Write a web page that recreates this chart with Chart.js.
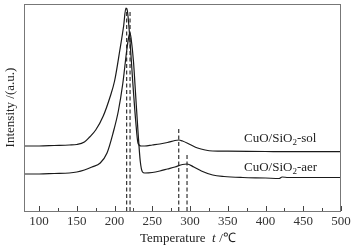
<!DOCTYPE html>
<html>
<head>
<meta charset="utf-8">
<script src="https://cdn.jsdelivr.net/npm/chart.js@4/dist/chart.umd.min.js"></script>
<style>
    html, body { margin: 0; padding: 0; background: #fff; }
    #wrap { width: 354px; height: 246px; position: relative; }
</style>
</head>
<body>
<div id="wrap"><canvas id="tprChart"></canvas></div>
<script>
// Dados (temperatura em °C, intensidade em unidades arbitrárias)
const solTemps = [80, 100, 120, 140, 150, 160, 167, 175, 185, 194, 200, 207, 212, 215, 217, 220, 224, 228, 231, 235, 240, 250, 260, 270, 280, 285, 290, 300, 310, 320, 330, 350, 400, 450, 500];
const solValues = [65, 65, 65.5, 66, 66.5, 69, 74, 81, 95, 114, 130, 161, 185, 203, 200, 175, 130, 90, 68, 65, 65, 66, 67, 68.5, 70.5, 71, 70, 66.5, 63, 61, 60, 59.8, 59.5, 59.3, 59.3];

const aerTemps = [80, 100, 120, 140, 150, 160, 170, 181, 190, 198, 205, 211, 216, 219, 220.5, 222, 225, 228, 231, 234, 237, 240, 250, 260, 270, 280, 290, 296, 305, 315, 330, 345, 370, 400, 418, 422, 430, 450, 500];
const aerValues = [37, 37, 37.5, 38, 39, 41, 44, 48, 58, 78, 100, 128, 160, 175, 178, 172, 150, 115, 80, 50, 39, 38, 38.5, 40, 42, 44, 46.5, 47, 44, 40, 36, 34.5, 33.5, 33, 32.5, 34, 33.5, 33.5, 33.5];

// Linhas tracejadas nos picos
const peakTemps = [216, 220.5, 285, 296];
const peakTops = [203, 201, 84, 56];

const xTicks = [100, 150, 200, 250, 300, 350, 400, 450, 500];
const xMinorTicks = [125, 175, 225, 275, 325, 375, 425, 475];

const seriesNames = ['CuO/SiO', '2', '-sol'];
const seriesNames2 = ['CuO/SiO', '2', '-aer'];

const serif = '"Liberation Serif", "Times New Roman", serif';

function toPoints(xs, ys) {
    return xs.map((x, i) => ({ x: x, y: ys[i] }));
}

const dashedSets = peakTemps.map((t, i) => ({
    data: [{ x: t, y: 0 }, { x: t, y: peakTops[i] }],
    borderColor: '#333',
    borderWidth: 1.2,
    borderDash: [4, 2.5],
    pointRadius: 0,
    tension: 0
}));

// Desenha moldura, ticks internos e textos
const decorPlugin = {
    id: 'decor',
    afterDraw(chart) {
        const ctx = chart.ctx;
        const a = chart.chartArea;
        const xs = chart.scales.x;
        ctx.save();
        ctx.strokeStyle = '#777';
        ctx.lineWidth = 1;
        ctx.strokeRect(a.left + 0.5, a.top + 0.5, a.right - a.left - 1, a.bottom - a.top);

        ctx.strokeStyle = '#444';
        xTicks.forEach(v => {
            const px = Math.round(xs.getPixelForValue(v)) + 0.5;
            ctx.beginPath();
            ctx.moveTo(px, a.bottom);
            ctx.lineTo(px, a.bottom - 5);
            ctx.stroke();
        });
        xMinorTicks.forEach(v => {
            const px = Math.round(xs.getPixelForValue(v)) + 0.5;
            ctx.beginPath();
            ctx.moveTo(px, a.bottom);
            ctx.lineTo(px, a.bottom - 3);
            ctx.stroke();
        });

        ctx.fillStyle = '#222';
        ctx.textBaseline = 'alphabetic';

        // Rótulos das séries com subscrito
        function drawName(parts, x, y) {
            ctx.font = '13px ' + serif;
            ctx.fillText(parts[0], x, y);
            x += ctx.measureText(parts[0]).width;
            ctx.font = '9px ' + serif;
            ctx.fillText(parts[1], x, y + 3);
            x += ctx.measureText(parts[1]).width;
            ctx.font = '13px ' + serif;
            ctx.fillText(parts[2], x, y);
        }
        drawName(seriesNames, 244, 142);
        drawName(seriesNames2, 244, 171);

        // Título do eixo x
        ctx.font = '13px ' + serif;
        ctx.fillText('Temperature', 140, 242);
        ctx.font = 'italic 13px ' + serif;
        ctx.fillText('t', 212, 242);
        ctx.font = '13px ' + serif;
        ctx.fillText(' /\u2103', 216, 242);

        // Título do eixo y
        ctx.translate(14, (a.top + a.bottom) / 2);
        ctx.rotate(-Math.PI / 2);
        ctx.textAlign = 'center';
        ctx.fillText('Intensity /(a.u.)', 0, 0);
        ctx.restore();
    }
};

new Chart(document.getElementById('tprChart'), {
    type: 'line',
    data: {
        datasets: [{
            data: toPoints(solTemps, solValues),
            borderColor: '#1a1a1a',
            borderWidth: 1.2,
            pointRadius: 0,
            cubicInterpolationMode: 'monotone'
        }, {
            data: toPoints(aerTemps, aerValues),
            borderColor: '#1a1a1a',
            borderWidth: 1.2,
            pointRadius: 0,
            cubicInterpolationMode: 'monotone'
        }].concat(dashedSets)
    },
    options: {
        responsive: true,
        maintainAspectRatio: false,
        animation: false,
        layout: {
            padding: { left: 24, right: 13, top: 4, bottom: 0 }
        },
        plugins: {
            legend: { display: false },
            tooltip: { enabled: false }
        },
        scales: {
            x: {
                type: 'linear',
                min: 80,
                max: 500,
                afterBuildTicks: function (scale) {
                    scale.ticks = xTicks.map(v => ({ value: v }));
                },
                afterFit: function (scale) {
                    scale.height = 35;
                },
                grid: {
                    display: false,
                    drawTicks: false
                },
                border: { display: false },
                ticks: {
                    padding: 3,
                    maxRotation: 0,
                    autoSkip: false,
                    color: '#333',
                    font: { family: serif, size: 13 }
                }
            },
            y: {
                display: false,
                min: 0,
                max: 207
            }
        }
    },
    plugins: [decorPlugin]
});
</script>
</body>
</html>
